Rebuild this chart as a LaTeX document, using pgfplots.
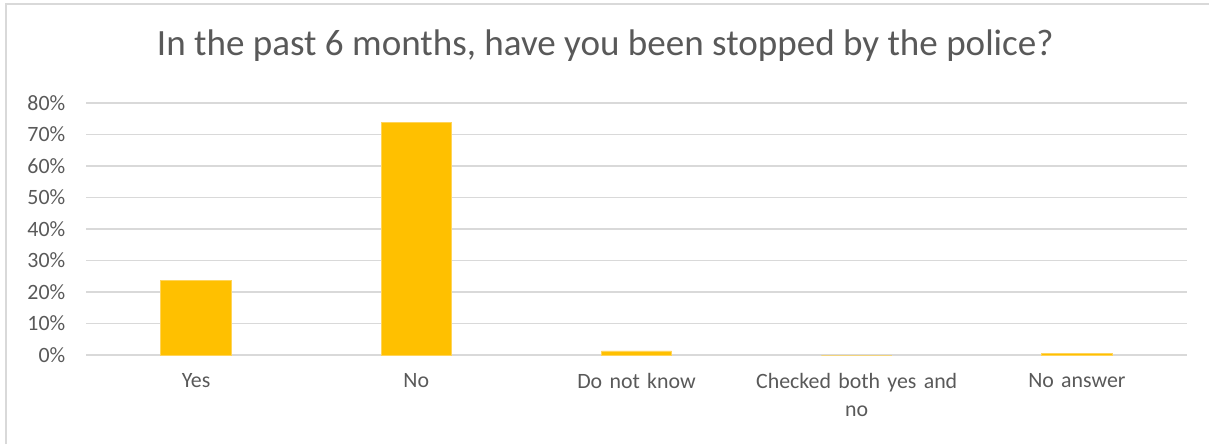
\documentclass[border=0pt]{standalone}
\usepackage{pgfplots}
\pgfplotsset{compat=1.18}
\usepackage{fontspec}
\setmainfont{Carlito}
\definecolor{bargold}{HTML}{FFC000}
\definecolor{baredge}{HTML}{FFD45A}
\definecolor{gridc}{HTML}{D9D9D9}
\definecolor{txt}{HTML}{595959}
\begin{document}
\begin{tikzpicture}
\path[use as bounding box] (0,0) rectangle (906.75pt,333pt);
\draw[gridc, line width=0.8pt] (4.5pt,0pt) -- (4.5pt,330pt) -- (906.75pt,330pt);
\node[text=txt, font=\fontsize{27.8}{32}\selectfont] at (454pt,299pt) {In the past 6 months, have you been stopped by the police?};
\begin{axis}[
  at={(64.5pt,66.75pt)}, anchor=south west,
  scale only axis, width=825.75pt, height=189pt,
  xmin=-0.5, xmax=4.5, ymin=0, ymax=80,
  ytick={0,10,...,80},
  xtick={0,1,2,3,4},
  xticklabels={Yes,No,Do not know,{Checked both yes and\\no},No answer},
  axis line style={draw=none},
  ymajorgrids, grid style={gridc, line width=0.9pt},
  major tick length=0pt,
  /pgf/number format/assume math mode=true,
  yticklabel={\pgfmathprintnumber{\tick}\%},
  tick label style={text=txt, font=\fontsize{16.4}{21.5}\selectfont},
  yticklabel style={xshift=-12pt},
  xticklabel style={text width=175pt, align=center, yshift=-10pt},
  clip=false,
]
\addplot[ybar, bar width=0.32, fill=bargold, draw=baredge, line width=0.6pt]
  coordinates {(0,23.7) (1,73.8) (2,1.3) (3,0) (4,0.6)};
\end{axis}
\end{tikzpicture}
\end{document}
